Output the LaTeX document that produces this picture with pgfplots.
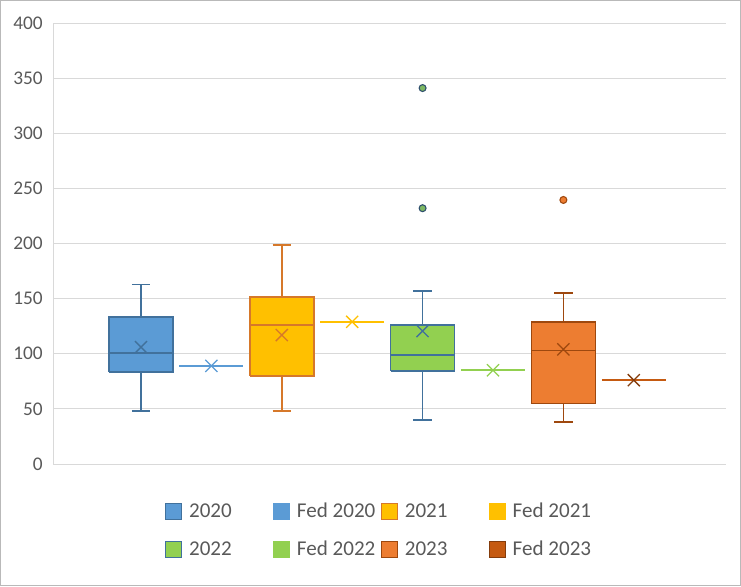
\documentclass[border=0pt]{standalone}
\usepackage{pgfplots}
\pgfplotsset{compat=1.18}
\usepackage{fontspec}
\setmainfont{Carlito}

\definecolor{c20}{HTML}{5B9BD5}
\definecolor{c20d}{HTML}{41719C}
\definecolor{c21}{HTML}{FFC000}
\definecolor{c21d}{HTML}{D6782A}
\definecolor{c22}{HTML}{92D050}
\definecolor{c22d}{HTML}{41719C}
\definecolor{c23}{HTML}{ED7D31}
\definecolor{c23d}{HTML}{9E480E}
\definecolor{f23}{HTML}{C55A11}
\definecolor{f23d}{HTML}{843C0C}
\definecolor{gridgray}{HTML}{D9D9D9}
\definecolor{tickgray}{HTML}{595959}

\pgfplotsset{
  meanx/.style={only marks, mark=x, mark size=6.4pt, mark options={draw=#1, line width=1pt, solid}, forget plot},
  sq/.style 2 args={legend image code/.code={\draw[fill=#1, draw=#2, line width=0.9pt] (0pt,-6pt) rectangle (12pt,6pt);}},
}

\begin{document}
\begin{tikzpicture}
\useasboundingbox (0pt,0pt) rectangle (555.75pt,-439.5pt);
\draw[draw=gray!55, line width=0.75pt] (0.375pt,-0.375pt) rectangle (555.375pt,-439.125pt);
\begin{axis}[
  at={(39.75pt,-348pt)}, anchor=south west,
  width=504.75pt, height=330.75pt, scale only axis,
  xmin=-0.25, xmax=9.31, ymin=0, ymax=400,
  ytick={0,50,...,400}, xtick=\empty,
  ymajorgrids, grid style={draw=gridgray, line width=0.75pt},
  axis x line*=bottom, axis y line*=left,
  axis line style={draw=gridgray, line width=0.75pt, -},
  major tick length=0pt,
  /pgf/number format/assume math mode=true,
  yticklabel style={font=\fontsize{14.5}{17}\selectfont, text=tickgray, xshift=-4.2pt},
  legend columns=4,
  legend cell align=left,
  legend style={at={(0.1664,-0.082)}, anchor=north west, draw=none, fill=none,
    font=\fontsize{15.8}{18}\selectfont, text=tickgray, inner sep=0pt,
    row sep=12pt,
    /tikz/every odd column/.append style={column sep=3pt},
    /tikz/every even column/.append style={column sep=0pt}},
]
% ---- 2020 (x=1)
\addplot[draw=c20d, line width=1.1pt, forget plot] coordinates {(1,48) (1,83.4)};
\addplot[draw=c20d, line width=1.1pt, forget plot] coordinates {(1,133.3) (1,163)};
\addplot[draw=c20d, line width=1.1pt, forget plot] coordinates {(0.87,48) (1.13,48)};
\addplot[draw=c20d, line width=1.1pt, forget plot] coordinates {(0.87,163) (1.13,163)};
\addplot[draw=c20d, fill=c20, line width=1.1pt, forget plot] coordinates {(0.545,83.4) (1.455,83.4) (1.455,133.3) (0.545,133.3) (0.545,83.4)};
\addplot[draw=c20d, line width=1.1pt, forget plot] coordinates {(0.545,100.7) (1.455,100.7)};
\addplot[meanx=c20d] coordinates {(1,106)};
% ---- Fed 2020 (x=2)
\addplot[draw=c20, line width=1.6pt, forget plot] coordinates {(1.545,89) (2.455,89)};
\addplot[meanx=c20] coordinates {(2,89)};
% ---- 2021 (x=3)
\addplot[draw=c21d, line width=1.1pt, forget plot] coordinates {(3,48) (3,80)};
\addplot[draw=c21d, line width=1.1pt, forget plot] coordinates {(3,151.5) (3,198.6)};
\addplot[draw=c21d, line width=1.1pt, forget plot] coordinates {(2.87,48) (3.13,48)};
\addplot[draw=c21d, line width=1.1pt, forget plot] coordinates {(2.87,198.6) (3.13,198.6)};
\addplot[draw=c21d, fill=c21, line width=1.1pt, forget plot] coordinates {(2.545,80) (3.455,80) (3.455,151.5) (2.545,151.5) (2.545,80)};
\addplot[draw=c21d, line width=1.1pt, forget plot] coordinates {(2.545,126) (3.455,126)};
\addplot[meanx=c21d] coordinates {(3,117)};
% ---- Fed 2021 (x=4)
\addplot[draw=c21, line width=1.6pt, forget plot] coordinates {(3.545,129) (4.455,129)};
\addplot[meanx=c21] coordinates {(4,129)};
% ---- 2022 (x=5)
\addplot[draw=c22d, line width=1.1pt, forget plot] coordinates {(5,40) (5,84.4)};
\addplot[draw=c22d, line width=1.1pt, forget plot] coordinates {(5,126) (5,157)};
\addplot[draw=c22d, line width=1.1pt, forget plot] coordinates {(4.87,40) (5.13,40)};
\addplot[draw=c22d, line width=1.1pt, forget plot] coordinates {(4.87,157) (5.13,157)};
\addplot[draw=c22d, fill=c22, line width=1.1pt, forget plot] coordinates {(4.545,84.4) (5.455,84.4) (5.455,126) (4.545,126) (4.545,84.4)};
\addplot[draw=c22d, line width=1.1pt, forget plot] coordinates {(4.545,99) (5.455,99)};
\addplot[meanx=c22d] coordinates {(5,120.6)};
\addplot[only marks, mark=*, mark size=2.6pt, mark options={fill=c22!75!c22d, draw=c22d!70!black, line width=0.8pt}, forget plot] coordinates {(5,341) (5,232)};
% ---- Fed 2022 (x=6)
\addplot[draw=c22, line width=1.6pt, forget plot] coordinates {(5.545,85) (6.455,85)};
\addplot[meanx=c22] coordinates {(6,85)};
% ---- 2023 (x=7)
\addplot[draw=c23d, line width=1.1pt, forget plot] coordinates {(7,38) (7,55)};
\addplot[draw=c23d, line width=1.1pt, forget plot] coordinates {(7,129) (7,155)};
\addplot[draw=c23d, line width=1.1pt, forget plot] coordinates {(6.87,38) (7.13,38)};
\addplot[draw=c23d, line width=1.1pt, forget plot] coordinates {(6.87,155) (7.13,155)};
\addplot[draw=c23d, fill=c23, line width=1.1pt, forget plot] coordinates {(6.545,55) (7.455,55) (7.455,129) (6.545,129) (6.545,55)};
\addplot[draw=c23d, line width=1.1pt, forget plot] coordinates {(6.545,103) (7.455,103)};
\addplot[meanx=c23d] coordinates {(7,104)};
\addplot[only marks, mark=*, mark size=2.6pt, mark options={fill=c23, draw=c23d, line width=0.8pt}, forget plot] coordinates {(7,239.5)};
% ---- Fed 2023 (x=8)
\addplot[draw=f23, line width=1.6pt, forget plot] coordinates {(7.545,76) (8.455,76)};
\addplot[meanx=f23d] coordinates {(8,76)};
% ---- legend
\addlegendimage{sq={c20}{c20d}}\addlegendentry{\makebox[61pt][l]{2020}}
\addlegendimage{sq={c20}{c20}}\addlegendentry{\makebox[61pt][l]{Fed 2020}}
\addlegendimage{sq={c21}{c21d}}\addlegendentry{\makebox[61pt][l]{2021}}
\addlegendimage{sq={c21}{c21}}\addlegendentry{\makebox[61pt][l]{Fed 2021}}
\addlegendimage{sq={c22}{c22d}}\addlegendentry{\makebox[61pt][l]{2022}}
\addlegendimage{sq={c22}{c22}}\addlegendentry{\makebox[61pt][l]{Fed 2022}}
\addlegendimage{sq={c23}{c23d}}\addlegendentry{\makebox[61pt][l]{2023}}
\addlegendimage{sq={f23}{f23d}}\addlegendentry{\makebox[61pt][l]{Fed 2023}}
\end{axis}
\end{tikzpicture}
\end{document}
